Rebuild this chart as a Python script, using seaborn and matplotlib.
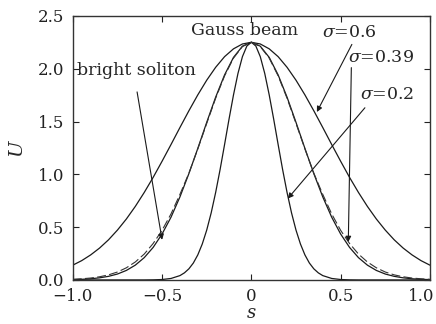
import numpy as np
import pandas as pd
import matplotlib
matplotlib.use("Agg")
import matplotlib.pyplot as plt
import matplotlib.transforms as mtransforms
import seaborn as sns

# ---- data ----
s_grid = [-1.0, -0.95, -0.9, -0.85, -0.8, -0.75, -0.7, -0.65, -0.6, -0.55, -0.5,
          -0.45, -0.4, -0.35, -0.3, -0.25, -0.2, -0.15, -0.1, -0.05, 0.0,
          0.05, 0.1, 0.15, 0.2, 0.25, 0.3, 0.35, 0.4, 0.45, 0.5,
          0.55, 0.6, 0.65, 0.7, 0.75, 0.8, 0.85, 0.9, 0.95, 1.0]
u_sigma06 = [0.140, 0.183, 0.237, 0.302, 0.380, 0.472, 0.577, 0.696, 0.828, 0.971, 1.124,
             1.282, 1.443, 1.601, 1.752, 1.891, 2.013, 2.114, 2.188, 2.234, 2.250,
             2.234, 2.188, 2.114, 2.013, 1.891, 1.752, 1.601, 1.443, 1.282, 1.124,
             0.971, 0.828, 0.696, 0.577, 0.472, 0.380, 0.302, 0.237, 0.183, 0.140]
u_sigma039 = [0.003, 0.006, 0.011, 0.020, 0.034, 0.056, 0.090, 0.140, 0.211, 0.308, 0.435,
              0.594, 0.786, 1.006, 1.245, 1.492, 1.730, 1.941, 2.107, 2.213, 2.250,
              2.213, 2.107, 1.941, 1.730, 1.492, 1.245, 1.006, 0.786, 0.594, 0.435,
              0.308, 0.211, 0.140, 0.090, 0.056, 0.034, 0.020, 0.011, 0.006, 0.003]
u_soliton = [0.006, 0.011, 0.018, 0.030, 0.048, 0.075, 0.115, 0.170, 0.245, 0.345, 0.470,
             0.625, 0.810, 1.010, 1.240, 1.482, 1.720, 1.932, 2.100, 2.210, 2.250,
             2.210, 2.100, 1.932, 1.720, 1.482, 1.240, 1.010, 0.810, 0.625, 0.470,
             0.345, 0.245, 0.170, 0.115, 0.075, 0.048, 0.030, 0.018, 0.011, 0.006]
s_fine = [-1.0, -0.9, -0.8, -0.7, -0.6, -0.55, -0.5, -0.45, -0.4, -0.375, -0.35, -0.325,
          -0.3, -0.275, -0.25, -0.225, -0.2, -0.175, -0.15, -0.125, -0.1, -0.075, -0.05,
          -0.025, 0.0, 0.025, 0.05, 0.075, 0.1, 0.125, 0.15, 0.175, 0.2, 0.225, 0.25,
          0.275, 0.3, 0.325, 0.35, 0.375, 0.4, 0.45, 0.5, 0.55, 0.6, 0.7, 0.8, 0.9, 1.0]
u_sigma02 = [0.0, 0.0, 0.0, 0.0, 0.0, 0.001, 0.004, 0.014, 0.041, 0.067, 0.105, 0.160,
             0.237, 0.340, 0.472, 0.635, 0.828, 1.046, 1.282, 1.523, 1.752, 1.955, 2.114,
             2.215, 2.250, 2.215, 2.114, 1.955, 1.752, 1.523, 1.282, 1.046, 0.828, 0.635, 0.472,
             0.340, 0.237, 0.160, 0.105, 0.067, 0.041, 0.014, 0.004, 0.001, 0.0, 0.0, 0.0, 0.0, 0.0]

x_ticks = [-1.0, -0.5, 0.0, 0.5, 1.0]
x_ticklabels = ["\u22121.0", "\u22120.5", "0", "0.5", "1.0"]
y_ticks = [0.0, 0.5, 1.0, 1.5, 2.0, 2.5]
y_ticklabels = ["0.0", "0.5", "1.0", "1.5", "2.0", "2.5"]

# ---- plot ----
sns.set_style("ticks")
plt.rcParams['font.family'] = ['DejaVu Serif']
plt.rcParams['mathtext.fontset'] = 'dejavuserif'

fig = plt.figure(figsize=(4.36, 3.24), dpi=100)
ax = fig.add_axes([0.167, 0.136, 0.819, 0.815])

line_col = "#1a1a1a"
df_g = pd.DataFrame({"s": s_grid, "U": u_sigma06})
sns.lineplot(data=df_g, x="s", y="U", ax=ax, color=line_col, lw=0.9, sort=False)
df_g = pd.DataFrame({"s": s_grid, "U": u_sigma039})
sns.lineplot(data=df_g, x="s", y="U", ax=ax, color=line_col, lw=0.9, sort=False)
df_g = pd.DataFrame({"s": s_fine, "U": u_sigma02})
sns.lineplot(data=df_g, x="s", y="U", ax=ax, color=line_col, lw=0.9, sort=False)
df_g = pd.DataFrame({"s": s_grid, "U": u_soliton})
sns.lineplot(data=df_g, x="s", y="U", ax=ax, color="#333333", lw=0.8, sort=False,
             linestyle=(0, (8, 3)))

ax.set_xlim(-1.0, 1.0)
ax.set_ylim(0.0, 2.5)
ax.set_xticks(x_ticks)
ax.set_xticklabels(x_ticklabels)
ax.set_yticks(y_ticks)
ax.set_yticklabels(y_ticklabels)
ax.tick_params(direction="in", top=True, right=True, length=4, width=0.8,
               labelsize=12, pad=6, colors="#222222")
for sp in ax.spines.values():
    sp.set_linewidth(1.0)
    sp.set_color("#333333")

# last x tick label sits inside the figure edge, as in the reference
last = ax.get_xticklabels()[-1]
last.set_horizontalalignment("right")
last.set_transform(last.get_transform() +
                   mtransforms.ScaledTranslation(5 / 100, 0, fig.dpi_scale_trans))

ax.set_xlabel("s", fontsize=13, style="italic", labelpad=-1)
ax.set_ylabel("U", fontsize=14, style="italic", labelpad=9)

fs = 12.5
ax.text(-0.04, 2.36, "Gauss beam", ha="center", va="center", fontsize=fs)
ax.text(-0.975, 1.98, "bright soliton", ha="left", va="center", fontsize=fs)
ax.text(0.552, 2.34, r"$\sigma$=0.6", ha="center", va="center", fontsize=fs)
ax.text(0.725, 2.11, r"$\sigma$=0.39", ha="center", va="center", fontsize=fs)
ax.text(0.762, 1.76, r"$\sigma$=0.2", ha="center", va="center", fontsize=fs)

ap = dict(arrowstyle="-|>", lw=0.8, color=line_col, mutation_scale=8,
          shrinkA=0, shrinkB=0)
ax.annotate("", xy=(-0.50, 0.38), xytext=(-0.64, 1.78), arrowprops=ap)
ax.annotate("", xy=(0.367, 1.59), xytext=(0.563, 2.23), arrowprops=ap)
ax.annotate("", xy=(0.543, 0.36), xytext=(0.56, 2.01), arrowprops=ap)
ax.annotate("", xy=(0.204, 0.77), xytext=(0.636, 1.63), arrowprops=ap)

fig.savefig("out.png", dpi=100)
